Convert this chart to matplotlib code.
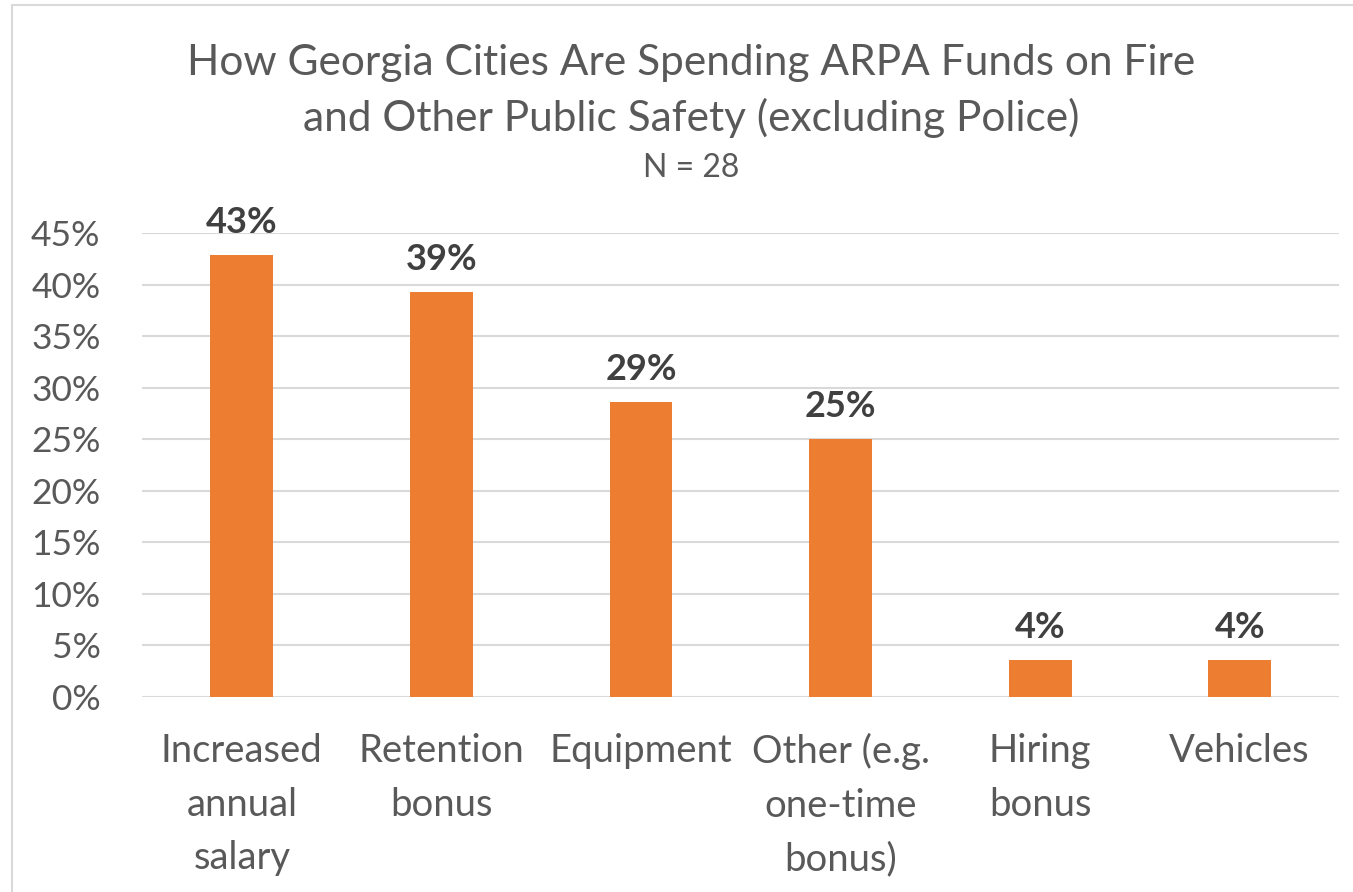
import matplotlib.pyplot as plt
from matplotlib.patches import Rectangle

categories = ['Increased\nannual\nsalary', 'Retention\nbonus', 'Equipment',
              'Other (e.g.\none-time\nbonus)', 'Hiring\nbonus', 'Vehicles']
shares = [12/28, 11/28, 8/28, 7/28, 1/28, 1/28]
yticks = [0, 0.05, 0.10, 0.15, 0.20, 0.25, 0.30, 0.35, 0.40, 0.45]

plt.rcParams['font.family'] = ['Lato', 'DejaVu Sans']

fig = plt.figure(figsize=(13.53, 8.92), dpi=100)
ax = fig.add_axes([0.105, 0.2186, 0.885, 0.5202])

# chart frame
fig.patches.append(Rectangle((12/1353, -0.1), 1.2, 1 - 5/892 + 0.1, transform=fig.transFigure,
                             fill=False, edgecolor='#d9d9d9', linewidth=1.5))

x = range(len(categories))
ax.bar(x, shares, width=0.315, color='#ED7D31', zorder=3)
for i, v in enumerate(shares):
    ax.annotate(f'{v*100:.0f}%', (i, v), xytext=(0, 16), textcoords='offset points',
                ha='center', va='baseline', fontsize=26, fontweight='bold', color='#404040')

ax.set_xlim(-0.5, len(categories) - 0.5)
ax.set_ylim(0, 0.45)
ax.set_yticks(yticks)
ax.set_yticklabels([f'{t*100:.0f}%' for t in yticks])
ax.set_xticks(list(x))
ax.set_xticklabels(categories, linespacing=1.6)
ax.tick_params(axis='y', length=0, pad=30, labelsize=25.5, labelcolor='#595959')
ax.tick_params(axis='x', length=0, pad=26, labelsize=27.5, labelcolor='#595959')
ax.grid(axis='y', color='#d9d9d9', linewidth=1.5, zorder=0)
for s in ax.spines.values():
    s.set_visible(False)

fig.text(0.511, 0.898, 'How Georgia Cities Are Spending ARPA Funds on Fire\nand Other Public Safety (excluding Police)',
         ha='center', va='center', fontsize=30.5, color='#595959', linespacing=1.5)
fig.text(0.511, 0.812, 'N = 28', ha='center', va='center', fontsize=23, color='#595959')

fig.savefig('out.png', dpi=100)
